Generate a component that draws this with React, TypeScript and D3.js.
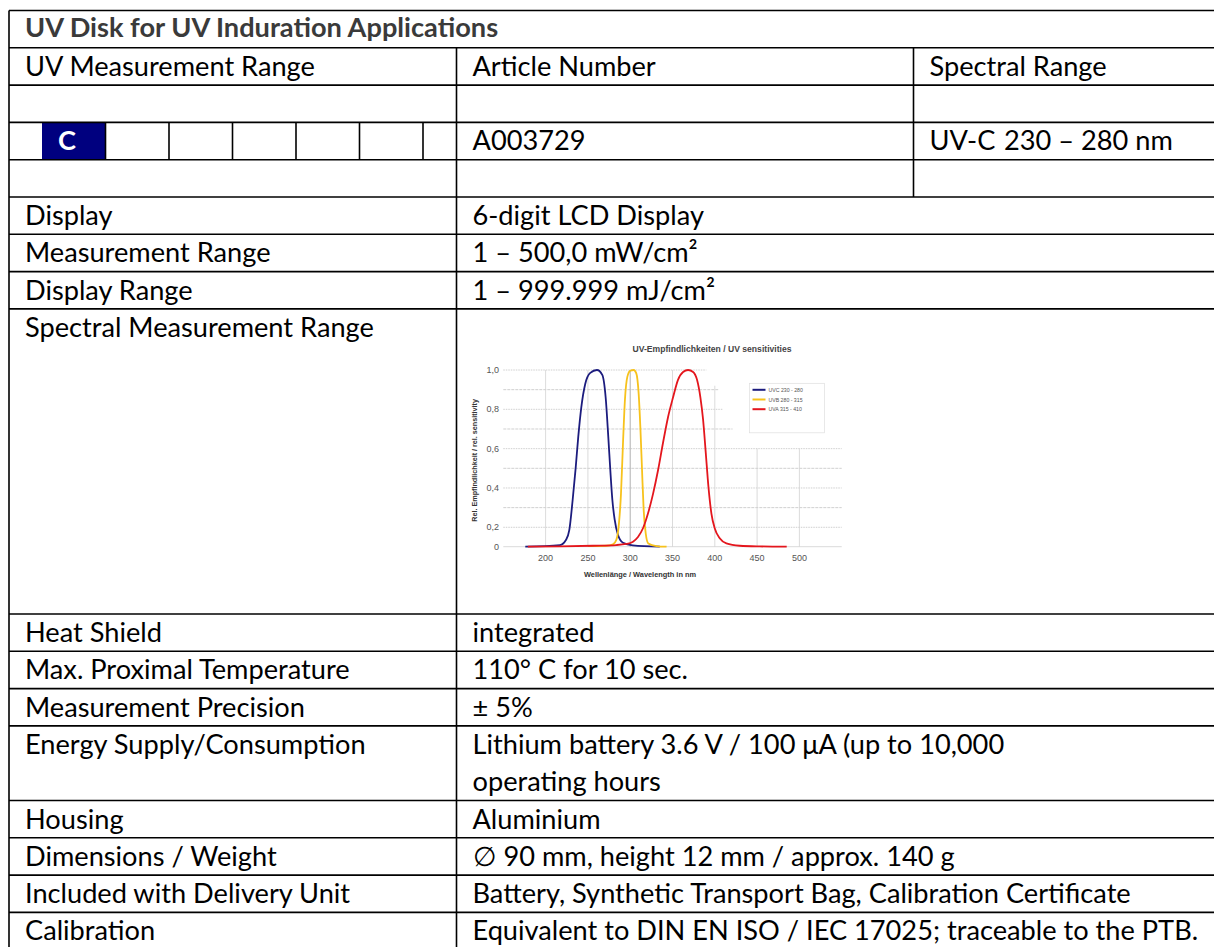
import React from "react";
import * as d3 from "d3";

// ---- table content ----
const titleText = "UV Disk for UV Induration Applications";
const headerCols = ["UV Measurement Range", "Article Number", "Spectral Range"];
const rangeCells = ["C", "", "", "", "", ""];
const articleNumber = "A003729";
const spectralBand = "UV-C";
const spectralNm = "230 – 280 nm";

const specLabels = [
  "Display",
  "Measurement Range",
  "Display Range",
  "Spectral Measurement Range",
  "Heat Shield",
  "Max. Proximal Temperature",
  "Measurement Precision",
  "Energy Supply/Consumption",
  "Housing",
  "Dimensions / Weight",
  "Included with Delivery Unit",
  "Calibration",
];
const specValues: string[][] = [
  ["6-digit LCD Display"],
  ["1 – 500,0 mW/cm²"],
  ["1 – 999.999 mJ/cm²"],
  [],
  ["integrated"],
  ["110° C for 10 sec."],
  ["± 5%"],
  ["Lithium battery 3.6 V / 100 μA (up to 10,000", "operating hours"],
  ["Aluminium"],
  ["∅ 90 mm, height 12 mm / approx. 140 g"],
  ["Battery, Synthetic Transport Bag, Calibration Certificate"],
  ["Equivalent to DIN EN ISO / IEC 17025; traceable to the PTB."],
];
const specRowUnits = [1, 1, 1, 8.18, 1, 1, 1, 2, 1, 1, 1, 1];

// ---- chart content ----
const chartTitle = "UV-Empfindlichkeiten / UV sensitivities";
const yAxisTitle = "Rel. Empfindlichkeit / rel. sensitivity";
const xAxisTitle = "Wellenlänge / Wavelength in nm";
const xTicks = [200, 250, 300, 350, 400, 450, 500];
const xGridFrom = [1, 1, 1, 1, 0.92, 0.6, 0.6];
const yTicks = [0, 0.2, 0.4, 0.6, 0.8, 1.0];
const yGrid = [0.2, 0.3, 0.4, 0.5, 0.6, 0.7, 0.8, 0.9, 1.0];
const yGridTo = [550, 550, 550, 550, 550, 421, 410, 404, 390];
const seriesNames = ["UVC 230 - 280", "UVB 280 - 315", "UVA 315 - 410"];
const seriesColors = ["#1c1c7e", "#f7c21c", "#e4161d"];

const uvcNm = [176, 217, 224, 228, 232, 235.5, 238.6, 242.2, 246.9, 252.8, 260.7, 267, 271, 274.1, 276.5, 278.9, 281.6, 285.6, 291.5, 303, 335];
const uvcVal = [0, 0.017, 0.069, 0.17, 0.34, 0.5, 0.66, 0.81, 0.93, 0.985, 1.0, 0.975, 0.86, 0.66, 0.49, 0.34, 0.24, 0.12, 0.04, 0.014, 0];

const uvbNm = [250, 272, 279.6, 283.6, 286.7, 289.1, 291.5, 293.8, 296.6, 300.2, 304.1, 307.2, 310, 312, 314, 315.9, 318.3, 321.4, 331, 343];
const uvbVal = [0.007, 0.01, 0.024, 0.07, 0.22, 0.37, 0.63, 0.85, 0.965, 0.997, 1.0, 0.983, 0.88, 0.71, 0.49, 0.29, 0.14, 0.034, 0.007, 0];

const uvaNm = [179, 217, 256, 283.6, 295.4, 303.3, 309.2, 315.1, 321, 327, 332.9, 338.8, 344.7, 350.6, 356.5, 362.5, 368.4, 374.3, 379, 383, 386.1, 389.3, 392.4, 396, 399.9, 405.8, 413.7, 429.5, 453, 485];
const uvaVal = [0, 0.003, 0.01, 0.017, 0.028, 0.052, 0.1, 0.19, 0.27, 0.37, 0.49, 0.63, 0.76, 0.86, 0.95, 0.99, 1.0, 0.99, 0.95, 0.86, 0.75, 0.58, 0.41, 0.27, 0.19, 0.086, 0.034, 0.01, 0.003, 0];

const W = 1214;
const H = 947;
const FONT = "Lato, 'Open Sans', sans-serif";
const CFONT = "'Liberation Sans', Arial, sans-serif";

export default function App() {
  const rowH = 37.3;
  const top = 10.5;
  const left = 9;
  const split1 = 456.5;
  const split2 = 913.5;
  const fs = 27.2;
  const padX = 16;
  const base = 28;

  // header rows
  const headTops = d3.range(6).map((i) => top + i * rowH);
  const specTop = headTops[5];
  const specTops: number[] = [];
  let acc = specTop;
  specRowUnits.forEach((u) => {
    specTops.push(acc);
    acc += u * rowH;
  });
  const bottom = acc;

  // C row sub cells
  const cellStart = 42;
  const cellW = 63.5;
  const cellEdges = rangeCells.map((_, i) => cellStart + (i + 1) * cellW);

  // chart scales
  const x = d3.scaleLinear().domain([150, 550]).range([503.3, 841.7]);
  const y = d3.scaleLinear().domain([0, 0.2, 1]).range([546.7, 527.3, 370]);
  const line = d3
    .line<[number, number]>()
    .x((d) => x(d[0]))
    .y((d) => y(d[1]))
    .curve(d3.curveMonotoneX);
  const series = [
    d3.zip(uvcNm, uvcVal) as [number, number][],
    d3.zip(uvbNm, uvbVal) as [number, number][],
    d3.zip(uvaNm, uvaVal) as [number, number][],
  ];
  const fmt = (v: number) => (v === 0 ? "0" : d3.format(".1f")(v).replace(".", ","));
  const legX = 749.5;
  const legY = 383.3;

  const stroke = { stroke: "#000", strokeWidth: 1.6 };

  return (
    <svg
      width={W}
      height={H}
      style={{ position: "absolute", left: 0, top: 0, background: "#fff" }}
    >
      <rect width={W} height={H} fill="#fff" />

      {/* ---- table text ---- */}
      <text x={left + padX} y={headTops[0] + 26} fontFamily={FONT} fontWeight="bold" fontSize={fs} fill="#3a3a3a">
        {titleText}
      </text>
      {headerCols.map((t, i) => (
        <text key={t} x={[left, split1, split2][i] + padX} y={headTops[1] + base} fontFamily={FONT} fontSize={fs} fill="#000">
          {t}
        </text>
      ))}

      {/* C row */}
      <rect x={cellStart} y={headTops[3]} width={cellW} height={rowH} fill="#00007f" />
      <text x={cellStart + 16} y={headTops[3] + base} fontFamily={FONT} fontWeight="bold" fontSize={fs} fill="#fff">
        {rangeCells[0]}
      </text>
      <text x={split1 + padX} y={headTops[3] + base} fontFamily={FONT} fontSize={fs}>
        {articleNumber}
      </text>
      <text x={split2 + padX} y={headTops[3] + base} fontFamily={FONT} fontSize={fs}>
        {spectralBand}
      </text>
      <text x={1004} y={headTops[3] + base} fontFamily={FONT} fontSize={fs}>
        {spectralNm}
      </text>

      {specLabels.map((lab, i) => (
        <g key={lab}>
          <text x={left + padX} y={specTops[i] + base} fontFamily={FONT} fontSize={fs}>
            {lab}
          </text>
          {specValues[i].map((v, j) => (
            <text key={j} x={split1 + padX} y={specTops[i] + base + j * rowH} fontFamily={FONT} fontSize={fs}>
              {v}
            </text>
          ))}
        </g>
      ))}

      {/* ---- table lines ---- */}
      {[...headTops, ...specTops.slice(1)].map((ty, i) => (
        <line key={"h" + i} x1={left} x2={W + 2} y1={ty} y2={ty} {...stroke} />
      ))}
      <line x1={left} x2={left} y1={top} y2={bottom} {...stroke} />
      <line x1={split1} x2={split1} y1={headTops[1]} y2={bottom} {...stroke} />
      <line x1={split2} x2={split2} y1={headTops[1]} y2={headTops[5]} {...stroke} />
      {cellEdges.map((cx, i) => (
        <line key={"c" + i} x1={cx} x2={cx} y1={headTops[3]} y2={headTops[4]} {...stroke} />
      ))}

      {/* ---- chart ---- */}
      <g fontFamily={CFONT}>
        <text x={712} y={352} textAnchor="middle" fontSize={8.6} fontWeight="bold" fill="#444">
          {chartTitle}
        </text>
        {yGrid.map((v, i) => (
          <line
            key={"yg" + v}
            x1={x(150)}
            x2={x(yGridTo[i])}
            y1={y(v)}
            y2={y(v)}
            stroke="#c4c4c4"
            strokeWidth={0.8}
            strokeDasharray={i % 2 === 0 ? "1.5,1" : "3,1"}
          />
        ))}
        <line x1={x(150)} x2={x(550)} y1={y(0)} y2={y(0)} stroke="#cfcfcf" strokeWidth={0.8} />
        {xTicks.map((t, i) => (
          <line
            key={"xg" + t}
            x1={x(t)}
            x2={x(t)}
            y1={y(xGridFrom[i])}
            y2={y(0)}
            stroke={t === 300 ? "#9a9a9a" : "#d2d2d2"}
            strokeWidth={0.8}
          />
        ))}
        {yTicks.map((t) => (
          <text key={"yt" + t} x={499} y={y(t) + 3} textAnchor="end" fontSize={9} fill="#555">
            {fmt(t)}
          </text>
        ))}
        {xTicks.map((t) => (
          <text key={"xt" + t} x={x(t)} y={561} textAnchor="middle" fontSize={9} fill="#555">
            {t}
          </text>
        ))}
        <text
          transform={`translate(477,${(y(0) + y(1)) / 2 + 2}) rotate(-90)`}
          textAnchor="middle"
          fontSize={7.2}
          fontWeight="bold"
          fill="#333"
        >
          {yAxisTitle}
        </text>
        <text x={640} y={576.5} textAnchor="middle" fontSize={7.4} fontWeight="bold" fill="#333">
          {xAxisTitle}
        </text>

        {series.map((s, i) => (
          <path key={"s" + i} d={line(s) || ""} fill="none" stroke={seriesColors[i]} strokeWidth={1.8} />
        ))}

        <rect x={legX} y={legY} width={75} height={49.5} fill="#fff" stroke="#dedede" strokeWidth={0.7} />
        {seriesNames.map((n, i) => (
          <g key={n} transform={`translate(${legX + 3},${legY + 6.5 + i * 9.7})`}>
            <line x1={0} x2={13} y1={0} y2={0} stroke={seriesColors[i]} strokeWidth={2} />
            <text x={16} y={2} fontSize={5.2} fill="#555">
              {n}
            </text>
          </g>
        ))}
      </g>
    </svg>
  );
}
